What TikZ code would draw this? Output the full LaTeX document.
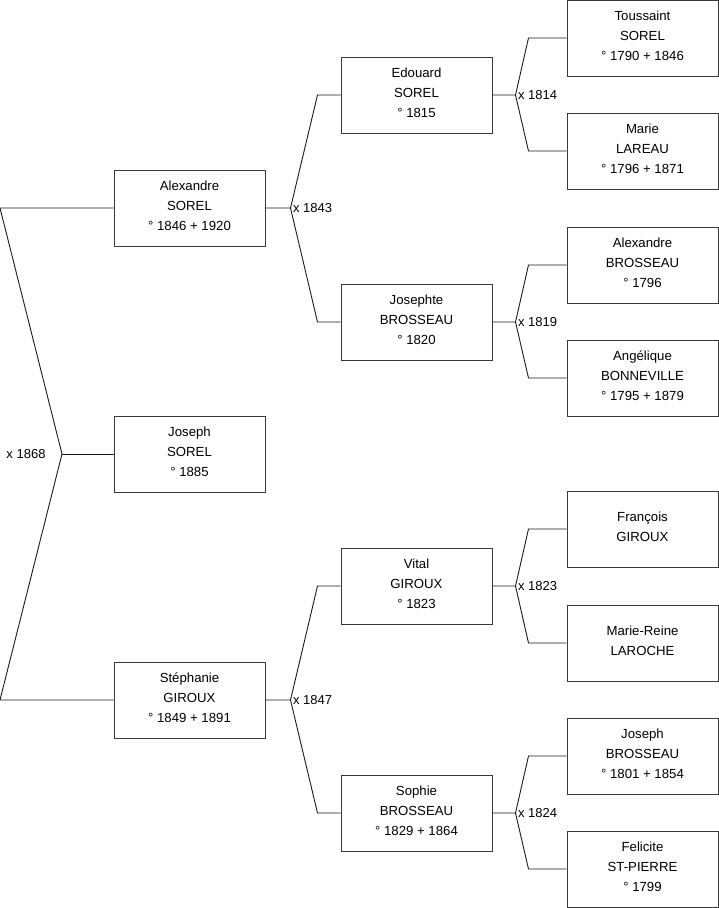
\documentclass[tikz,border=0pt]{standalone}
\usepackage{fontspec}
\setmainfont{Liberation Sans}
\usetikzlibrary{positioning, calc}
\definecolor{cbox}{HTML}{3A3A3A}
\definecolor{cline}{HTML}{1A1A1A}
\tikzset{
  every picture/.style={line width=1pt, x=1pt, y=-1pt},
  person/.style={draw=cbox, fill=white, minimum width=151pt, minimum height=76pt, align=center, inner sep=0pt, text depth=4pt, font=\fontsize{13.2}{20}\selectfont},
  link/.style={draw=cline, line width=0.9pt},
  union/.style={font=\fontsize{13}{14}\selectfont, inner sep=1pt},
}

\begin{document}
\begin{tikzpicture}
  \useasboundingbox (0,0) rectangle (719,908);
  % generation 1
  \node[person] (alex) at (189.5,208) {Alexandre\\SOREL\\° 1846 + 1920};
  \node[person] (jo) at (189.5,454) {Joseph\\SOREL\\° 1885};
  \node[person] (stef) at (189.5,700) {Stéphanie\\GIROUX\\° 1849 + 1891};
  % generation 2
  \node[person] (edo) at (416.5,95) {Edouard\\SOREL\\° 1815};
  \node[person] (jos) at (416.5,322) {Josephte\\BROSSEAU\\° 1820};
  \node[person] (vit) at (416.5,586) {Vital\\GIROUX\\° 1823};
  \node[person] (sop) at (416.5,813) {Sophie\\BROSSEAU\\° 1829 + 1864};
  % generation 3
  \node[person] (tou) at (642.5,38) {Toussaint\\SOREL\\° 1790 + 1846};
  \node[person] (mar) at (642.5,151) {Marie\\LAREAU\\° 1796 + 1871};
  \node[person] (alb) at (642.5,265) {Alexandre\\BROSSEAU\\° 1796};
  \node[person] (ang) at (642.5,378) {Angélique\\BONNEVILLE\\° 1795 + 1879};
  \node[person] (fra) at (642.5,529) {François\\GIROUX};
  \node[person] (mre) at (642.5,643) {Marie-Reine\\LAROCHE};
  \node[person] (job) at (642.5,756) {Joseph\\BROSSEAU\\° 1801 + 1854};
  \node[person] (fel) at (642.5,869) {Felicite\\ST-PIERRE\\° 1799};

  % parents of Joseph
  \coordinate (f0) at (62,454);
  \coordinate (ta) at (0,208);
  \coordinate (tb) at (0,700);
  \draw[link] (alex.west) -- (ta) -- (f0) -- (tb) -- (stef.west);
  \draw[link] (f0) -- (jo.west);
  \node[union, anchor=east] (m1868) at ([xshift=-15pt]f0) {x 1868};

  % other couples
  \foreach \c/\a/\b/\y in {alex/edo/jos/1843, stef/vit/sop/1847} {
    \draw[link] (\c.east) -- ++(25,0) coordinate (f\y) -- ([xshift=-23pt]\a.west) -- (\a.west);
    \draw[link] (f\y) -- ([xshift=-23pt]\b.west) -- (\b.west);
    \node[union, anchor=west] (m\y) at ([xshift=1pt]f\y) {x \y};
  }
  \foreach \c/\a/\b/\y in {edo/tou/mar/1814, jos/alb/ang/1819, vit/fra/mre/1823, sop/job/fel/1824} {
    \draw[link] (\c.east) -- ++(23,0) coordinate (f\y) -- ([xshift=-38pt]\a.west) -- (\a.west);
    \draw[link] (f\y) -- ([xshift=-38pt]\b.west) -- (\b.west);
    \node[union, anchor=west] (m\y) at ([xshift=1pt]f\y) {x \y};
  }
\end{tikzpicture}
\end{document}
